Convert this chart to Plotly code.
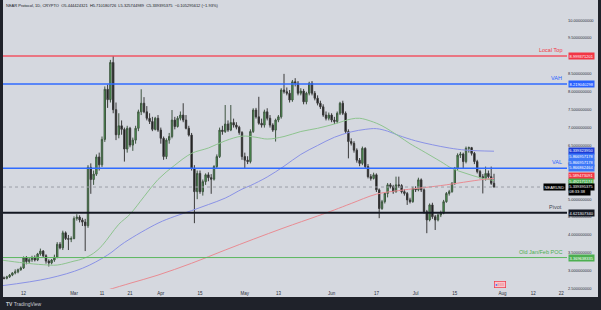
import plotly.graph_objects as go
import pandas as pd

# ---------------- data ----------------
first_day = "2024-02-05"

opens = [
    # Feb
    2.80, 2.79, 2.83, 2.88, 2.94, 2.97, 3.03, 3.08, 3.36, 3.26, 3.31, 3.37, 3.30, 3.47, 3.55, 3.42, 3.27, 3.22, 3.30, 3.38, 3.74, 3.64, 4.06, 3.90, 3.88,
    # Mar
    3.90, 4.46, 4.50, 4.42, 4.36, 4.26, 5.89, 5.55, 5.70, 6.18, 5.96, 6.67, 8.07, 7.78, 8.82, 7.50, 6.80, 7.05, 6.95, 6.40, 6.98, 6.51, 6.65, 6.98, 7.44, 7.68, 7.44, 7.26, 7.17, 6.95, 7.26,
    # Apr
    6.93, 6.70, 6.19, 6.65, 6.75, 7.21, 7.03, 7.26, 7.35, 7.21, 6.98, 6.79, 5.86, 5.21, 5.72, 5.21, 5.49, 5.68, 5.60, 5.56, 5.91, 6.19, 6.93, 6.89, 7.10, 6.93, 7.14, 7.07, 7.01, 6.86,
    # May
    6.19, 6.09, 6.05, 6.89, 7.49, 7.30, 7.12, 7.07, 7.44, 7.26, 7.07, 6.93, 7.21, 7.30, 8.05, 8.00, 7.96, 7.77, 8.28, 8.24, 7.96, 8.02, 7.72, 7.96, 8.24, 7.96, 7.82, 7.68, 7.58, 7.35, 7.26,
    # Jun
    7.35, 7.21, 7.17, 7.40, 7.68, 7.40, 6.89, 6.61, 6.56, 6.37, 6.09, 6.00, 6.42, 5.91, 5.63, 5.58, 5.68, 5.26, 4.74, 4.93, 5.16, 5.40, 5.35, 5.21, 5.40, 5.38, 5.21, 5.16, 4.98, 4.93,
    # Jul
    5.30, 5.26, 5.54, 5.26, 4.65, 4.42, 4.84, 4.51, 4.42, 4.56, 4.61, 4.93, 5.16, 5.21, 5.44, 5.86, 6.23, 6.26, 6.05, 6.42, 6.44, 6.28, 6.05, 5.77, 5.63, 5.58, 5.72, 5.63, 5.444424321,
]
highs = [
    2.84, 2.86, 2.91, 2.96, 3.04, 3.06, 3.12, 3.40, 3.41, 3.36, 3.42, 3.43, 3.50, 3.62, 3.58, 3.46, 3.32, 3.33, 3.45, 3.80, 3.80, 4.12, 4.10, 4.00, 3.96,
    4.52, 4.58, 4.55, 4.48, 4.45, 5.95, 6.00, 5.80, 6.25, 6.30, 6.75, 8.15, 8.20, 8.89, 8.999, 7.70, 7.40, 7.20, 7.00, 7.05, 7.02, 6.72, 7.05, 7.50, 8.07, 7.85, 7.60, 7.40, 7.30, 7.30, 7.35,
    7.00, 6.75, 6.70, 6.85, 7.49, 7.30, 7.32, 7.45, 7.68, 7.35, 7.05, 6.85, 5.95, 5.80, 5.80, 5.55, 5.72, 5.75, 5.70, 5.95, 6.25, 7.00, 7.05, 7.63, 7.20, 7.63, 7.25, 7.15, 7.05, 6.90,
    6.30, 6.20, 6.95, 7.54, 7.55, 7.86, 7.25, 7.50, 7.54, 7.35, 7.12, 7.25, 7.35, 8.10, 8.50, 8.12, 8.05, 8.33, 8.38, 8.30, 8.10, 8.08, 8.00, 8.28, 8.30, 8.02, 7.90, 7.75, 7.65, 7.45, 7.42,
    7.40, 7.30, 7.45, 7.72, 7.75, 7.45, 6.95, 6.70, 6.62, 6.42, 6.15, 6.47, 6.45, 5.98, 5.70, 5.74, 5.72, 5.30, 4.98, 5.20, 5.45, 5.45, 5.40, 5.63, 5.63, 5.42, 5.28, 5.20, 5.04, 5.35,
    5.36, 5.60, 5.58, 5.30, 4.70, 4.88, 4.90, 4.56, 4.60, 4.68, 4.98, 5.20, 5.26, 5.48, 5.90, 6.28, 6.32, 6.30, 6.47, 6.47, 6.46, 6.32, 6.10, 5.82, 5.70, 5.91, 5.80, 5.91, 5.710180726,
]
lows = [
    2.76, 2.76, 2.80, 2.85, 2.90, 2.93, 3.00, 3.05, 3.18, 3.20, 3.25, 3.26, 3.27, 3.42, 3.38, 3.20, 3.12, 3.18, 3.25, 3.35, 3.60, 3.58, 3.86, 3.58, 3.80,
    3.88, 4.40, 4.35, 4.25, 3.55, 4.20, 5.15, 5.40, 5.65, 5.80, 5.90, 6.60, 7.55, 7.70, 7.40, 6.65, 6.70, 6.80, 6.05, 6.30, 6.45, 6.35, 6.55, 6.90, 7.35, 7.40, 7.20, 7.10, 6.90, 6.92, 6.88,
    6.55, 6.10, 6.12, 6.55, 6.70, 6.95, 7.00, 7.20, 7.15, 6.95, 6.75, 5.80, 4.33, 5.00, 5.15, 5.10, 5.40, 5.50, 5.15, 5.52, 5.85, 6.15, 6.80, 6.85, 6.88, 6.90, 7.00, 6.95, 6.80, 6.10,
    5.86, 5.98, 6.00, 6.85, 7.25, 7.08, 7.00, 7.00, 7.20, 7.00, 6.88, 6.61, 7.15, 7.25, 7.95, 7.90, 7.70, 7.72, 8.15, 7.90, 7.90, 7.65, 7.65, 7.90, 7.90, 7.76, 7.62, 7.52, 7.30, 7.20, 7.20,
    7.15, 7.10, 7.12, 7.35, 7.35, 6.85, 6.14, 6.50, 6.30, 6.02, 5.92, 5.95, 5.85, 5.58, 5.52, 5.55, 5.20, 4.47, 4.70, 4.88, 5.05, 5.30, 5.15, 5.18, 5.32, 5.16, 5.10, 4.84, 4.88, 4.90,
    5.20, 5.22, 5.20, 4.60, 4.05, 4.38, 4.45, 4.14, 4.38, 4.50, 4.58, 4.90, 5.10, 5.18, 5.40, 5.82, 6.15, 5.86, 6.00, 6.30, 6.22, 5.98, 5.72, 5.58, 5.16, 5.52, 5.58, 5.40, 5.325744989,
]
closes = [
    2.79, 2.83, 2.88, 2.94, 2.97, 3.03, 3.08, 3.36, 3.26, 3.31, 3.37, 3.30, 3.47, 3.55, 3.42, 3.27, 3.22, 3.30, 3.38, 3.74, 3.64, 4.06, 3.90, 3.88, 3.90,
    4.46, 4.50, 4.42, 4.36, 4.26, 5.89, 5.55, 5.70, 6.18, 5.96, 6.67, 8.07, 7.78, 8.82, 7.50, 6.80, 7.05, 6.95, 6.40, 6.98, 6.51, 6.65, 6.98, 7.44, 7.68, 7.44, 7.26, 7.17, 6.95, 7.26, 6.93,
    6.70, 6.19, 6.65, 6.75, 7.21, 7.03, 7.26, 7.35, 7.21, 6.98, 6.79, 5.86, 5.21, 5.72, 5.21, 5.49, 5.68, 5.60, 5.56, 5.91, 6.19, 6.93, 6.89, 7.10, 6.93, 7.14, 7.07, 7.01, 6.86, 6.19,
    6.09, 6.05, 6.89, 7.49, 7.30, 7.12, 7.07, 7.44, 7.26, 7.07, 6.93, 7.21, 7.30, 8.05, 8.00, 7.96, 7.77, 8.28, 8.24, 7.96, 8.02, 7.72, 7.96, 8.24, 7.96, 7.82, 7.68, 7.58, 7.35, 7.26, 7.35,
    7.21, 7.17, 7.40, 7.68, 7.40, 6.89, 6.61, 6.56, 6.37, 6.09, 6.00, 6.42, 5.91, 5.63, 5.58, 5.68, 5.26, 4.74, 4.93, 5.16, 5.40, 5.35, 5.21, 5.40, 5.38, 5.21, 5.16, 4.98, 4.93, 5.30,
    5.26, 5.54, 5.26, 4.65, 4.42, 4.84, 4.51, 4.42, 4.56, 4.61, 4.93, 5.16, 5.21, 5.44, 5.86, 6.23, 6.26, 6.05, 6.42, 6.44, 6.28, 6.05, 5.77, 5.63, 5.58, 5.72, 5.63, 5.444424321, 5.339395375,
]

# moving averages
ma_green_dates = ["2024-02-04", "2024-02-12", "2024-02-19", "2024-02-24", "2024-03-01", "2024-03-04", "2024-03-08",
                  "2024-03-11", "2024-03-14", "2024-03-17", "2024-03-21", "2024-03-26", "2024-03-31", "2024-04-06",
                  "2024-04-12", "2024-04-18", "2024-04-24", "2024-04-30", "2024-05-05", "2024-05-09", "2024-05-15",
                  "2024-05-21", "2024-05-27", "2024-06-02", "2024-06-08", "2024-06-11", "2024-06-15", "2024-06-19",
                  "2024-06-25", "2024-06-29", "2024-07-03", "2024-07-10", "2024-07-14", "2024-07-19", "2024-07-24",
                  "2024-07-29"]
ma_green_vals = [3.30, 3.22, 3.17, 3.16, 3.27, 3.33, 3.49, 3.70, 4.00, 4.30, 4.58, 5.07, 5.55, 5.95, 6.28, 6.43,
                 6.63, 6.76, 6.73, 6.68, 6.75, 6.89, 6.98, 7.10, 7.24, 7.26, 7.18, 7.05, 6.76, 6.55, 6.37, 6.05,
                 5.86, 5.72, 5.60, 5.52]

ma_blue_dates = ["2024-02-04", "2024-02-21", "2024-03-04", "2024-03-13", "2024-03-19", "2024-03-31", "2024-04-06",
                 "2024-04-12", "2024-04-18", "2024-04-24", "2024-04-30", "2024-05-03", "2024-05-09", "2024-05-15",
                 "2024-05-21", "2024-05-27", "2024-06-02", "2024-06-08", "2024-06-13", "2024-06-17", "2024-06-21",
                 "2024-06-25", "2024-07-01", "2024-07-07", "2024-07-13", "2024-07-19", "2024-07-29"]
ma_blue_vals = [2.58, 2.79, 3.07, 3.44, 3.79, 4.33, 4.52, 4.68, 4.85, 5.03, 5.28, 5.38, 5.62, 5.92, 6.25, 6.50,
                6.73, 6.88, 6.95, 6.97, 6.90, 6.78, 6.63, 6.52, 6.43, 6.37, 6.34]

ma_red_dates = ["2024-03-12", "2024-03-21", "2024-03-31", "2024-04-12", "2024-04-24", "2024-05-04", "2024-05-15",
                "2024-05-27", "2024-06-02", "2024-06-08", "2024-06-17", "2024-06-25", "2024-07-10", "2024-07-25",
                "2024-07-29"]
ma_red_vals = [2.44, 2.65, 2.88, 3.21, 3.58, 3.88, 4.20, 4.53, 4.70, 4.88, 5.14, 5.24, 5.38, 5.55, 5.58]

# horizontal levels
level_names = ["Local Top", "VAH", "VAL", "Pivot", "Old Jan/Feb POC"]
level_values = [8.999371201, 8.219040298, 5.866957178, 4.621307340, 3.369638335]
last_price = 5.339395375

# price-scale labels
stack_values = [6.339323950, 5.866957178, 5.866957178, 5.866862464, 5.589473091, 5.492171174]
countdown = "08:33:38"
symbol = "NEARUSD"
header = ("NEAR Protocol, 1D, CRYPTO  O5.444424321  H5.710180726  L5.325744989  "
          "C5.339395375  \u22120.105295612 (\u22121.93%)")

# 9.0 sits under the Local Top box in the reference, so it is not listed
ytick_vals = [2.5, 3.0, 3.5, 4.0, 4.5, 5.0, 5.5, 6.0, 6.5, 7.0, 7.5, 8.0, 8.5, 9.5, 10.0, 10.5]
ytick_text = ["2.500000000", "3.000000000", "3.500000000", "4.000000000", "4.500000000", "5.000000000",
              "5.500000000", "6.000000000", "6.500000000", "7.000000000", "7.500000000", "8.000000000",
              "8.500000000", "9.500000000", "10.000000000", "10.500000000"]
xtick_dates = ["2024-02-12", "2024-03-01", "2024-03-11", "2024-03-21", "2024-04-01", "2024-04-15", "2024-05-01",
               "2024-05-13", "2024-06-01", "2024-06-17", "2024-07-01", "2024-07-15", "2024-08-01", "2024-08-12",
               "2024-08-22"]
xtick_text = ["12", "Mar", "11", "21", "Apr", "15", "May", "13", "Jun", "17", "Jul", "15", "Aug", "12", "22"]

# ---------------- figure ----------------
dates = pd.date_range(first_day, periods=len(opens), freq="D")

BG = "#d5d8df"
DARK = "#1f222a"
FONT = "Liberation Sans"
W, H = 601, 310
ML, MR, MT, MB = 3, 34, 0, 21
PW = W - ML - MR
PH = H - MT - MB


def px_x(px):
    return (px - ML) / PW


def px_y(py):
    return (MT + PH - py) / PH


fig = go.Figure()
fig.add_trace(go.Scatter(x=ma_blue_dates, y=ma_blue_vals, mode="lines",
                         line=dict(color="#8a92e6", width=1, shape="spline"), hoverinfo="skip"))
fig.add_trace(go.Scatter(x=ma_green_dates, y=ma_green_vals, mode="lines",
                         line=dict(color="#8ec48f", width=1, shape="spline"), hoverinfo="skip"))
fig.add_trace(go.Scatter(x=ma_red_dates, y=ma_red_vals, mode="lines",
                         line=dict(color="#e98c93", width=1, shape="spline"), hoverinfo="skip"))
fig.add_trace(go.Candlestick(
    x=dates, open=opens, high=highs, low=lows, close=closes,
    increasing=dict(fillcolor="#4caf50", line=dict(color="#3f5541", width=1)),
    decreasing=dict(fillcolor="#0e0e0e", line=dict(color="#3a3a3a", width=1)),
    whiskerwidth=0,
))

shapes = []
annotations = []

# current price dotted line
shapes.append(dict(type="line", xref="paper", x0=0, x1=1, yref="y", y0=last_price, y1=last_price,
                   line=dict(color="#9a9da6", width=1, dash="dot")))

level_colors = ["#f05563", "#2f6bff", "#2f6bff", "#131722", "#5cb85f"]
level_widths = [1.5, 1.5, 1.5, 2, 1]
label_colors = ["#f23645", "#2962ff", "#2962ff", "#434651", "#4caf50"]
box_colors = ["#f23645", "#2962ff", None, "#131722", "#4caf50"]
for name, val, lc, lw, tc, bc in zip(level_names, level_values, level_colors, level_widths, label_colors, box_colors):
    shapes.append(dict(type="line", xref="paper", x0=0, x1=1, yref="y", y0=val, y1=val,
                       line=dict(color=lc, width=lw)))
    annotations.append(dict(xref="paper", x=0.995, yref="y", y=val, yshift=1, xanchor="right",
                            yanchor="bottom", text=name, showarrow=False,
                            font=dict(family=FONT, size=5.5, color=tc)))
    if bc is not None:
        annotations.append(dict(xref="paper", x=1, xshift=1, yref="y", y=val, xanchor="left",
                                yanchor="middle", text="%.9f" % val, showarrow=False, bgcolor=bc,
                                borderpad=0.6, font=dict(family=FONT, size=4, color="white")))

# stacked price-scale labels
stack_colors = ["#1b3bd6", "#3d77f7", "#3d77f7", "#3d77f7", "#f23645", "#4caf50"]
stack_shift = [0, 11, 5.5, 0, 1.8, 0]
for v, c, s in zip(stack_values, stack_colors, stack_shift):
    annotations.append(dict(xref="paper", x=1, xshift=1, yref="y", y=v, yshift=s, xanchor="left",
                            yanchor="middle", text="%.9f" % v, showarrow=False, bgcolor=c,
                            borderpad=0.3, font=dict(family=FONT, size=4, color="white")))
annotations.append(dict(xref="paper", x=1, xshift=1, yref="y", y=last_price, xanchor="left",
                        yanchor="middle", text="%.9f" % last_price, showarrow=False, bgcolor="#000000",
                        borderpad=0.3, font=dict(family=FONT, size=4, color="white")))
annotations.append(dict(xref="paper", x=1, xshift=1, yref="y", y=last_price, yshift=-5, xanchor="left",
                        yanchor="middle", text=countdown + "&nbsp;&nbsp;&nbsp;&nbsp;", showarrow=False,
                        bgcolor="#000000", borderpad=0.3, font=dict(family=FONT, size=4, color="white")))
annotations.append(dict(xref="paper", x=1, xshift=-1, yref="y", y=last_price, xanchor="right",
                        yanchor="middle", text=symbol, showarrow=False, bgcolor="#000000",
                        borderpad=0.6, font=dict(family=FONT, size=4, color="white")))

# header
annotations.append(dict(xref="paper", x=px_x(4), yref="paper", y=px_y(6), xanchor="left", yanchor="middle",
                        text=header, showarrow=False, font=dict(family=FONT, size=4, color="#131722")))
# event marker pill
annotations.append(dict(xref="x", x="2024-07-31", yref="paper", y=px_y(284), xanchor="center", yanchor="middle",
                        text="<span style='color:#2962ff'>\u25cf</span>\u2261\u2261\u2261", showarrow=False,
                        bgcolor="#f6c7cd", bordercolor="#f23645", borderwidth=0.7, borderpad=0.3,
                        font=dict(family=FONT, size=4, color="#f23645")))
# logo
annotations.append(dict(xref="paper", x=px_x(4), yref="paper", y=px_y(304), xanchor="left", yanchor="middle",
                        text="<b>TV</b> TradingView", showarrow=False,
                        font=dict(family=FONT, size=5, color="#c9ccd4")))

# dark frame
shapes.append(dict(type="rect", xref="paper", yref="paper", x0=px_x(-1), x1=px_x(ML), y0=px_y(H + 1), y1=px_y(-1),
                   fillcolor=DARK, line=dict(width=0), layer="above"))
shapes.append(dict(type="rect", xref="paper", yref="paper", x0=px_x(598), x1=px_x(W + 1), y0=px_y(H + 1),
                   y1=px_y(-1), fillcolor=DARK, line=dict(width=0), layer="above"))
shapes.append(dict(type="rect", xref="paper", yref="paper", x0=px_x(-1), x1=px_x(W + 1), y0=px_y(H + 1),
                   y1=px_y(297), fillcolor=DARK, line=dict(width=0), layer="above"))

fig.update_layout(
    width=W, height=H,
    margin=dict(l=ML, r=MR, t=MT, b=MB, pad=0),
    paper_bgcolor=BG, plot_bgcolor=BG,
    showlegend=False,
    font=dict(family=FONT),
    shapes=shapes,
    annotations=annotations,
    xaxis=dict(type="date", range=["2024-02-04 15:26", "2024-08-24 01:41"],
               rangeslider=dict(visible=False), tickmode="array", tickvals=xtick_dates, ticktext=xtick_text,
               tickfont=dict(family=FONT, size=4.5, color="#2a2e39"), showgrid=False, zeroline=False,
               showline=False, ticks=""),
    yaxis=dict(side="right", range=[2.4911, 10.5637], tickmode="array", tickvals=ytick_vals, ticktext=ytick_text,
               tickfont=dict(family=FONT, size=4, color="#2a2e39"), showgrid=False, zeroline=False,
               showline=False, ticks=""),
    hovermode=False,
)

fig.write_html("out.html")
